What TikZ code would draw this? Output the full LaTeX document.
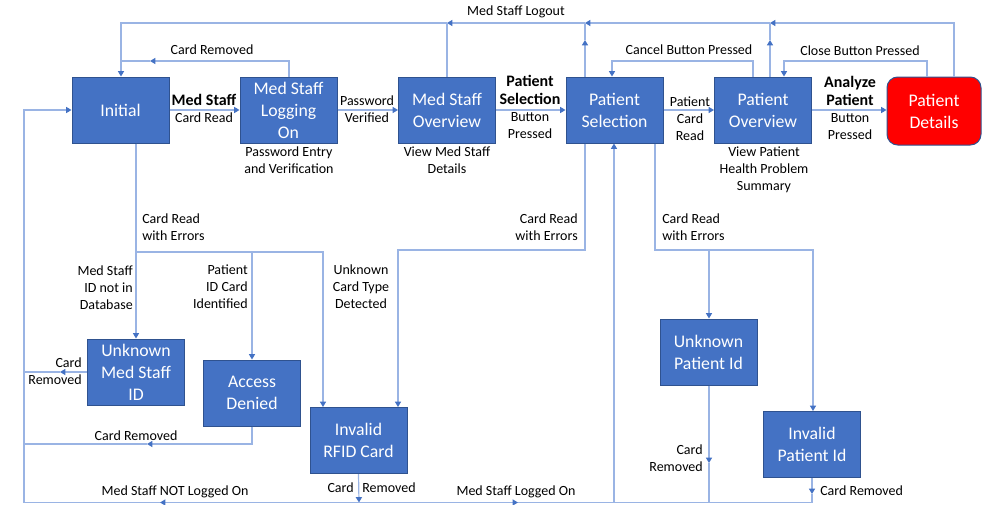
\documentclass[tikz,border=0pt]{standalone}
\usepackage{fontspec}
\setmainfont{Carlito}
\usetikzlibrary{arrows.meta}
\definecolor{boxblue}{HTML}{4472C4}
\definecolor{boxedge}{HTML}{2F528F}
\definecolor{linkblue}{HTML}{9AB4E4}
\definecolor{tipblue}{HTML}{4472C4}
\definecolor{detred}{HTML}{FF0000}
\begin{document}
\begin{tikzpicture}[x=0.75pt,y=-0.75pt,
 state/.style={rectangle, fill=boxblue, draw=boxedge, line width=0.75pt, text=white, minimum width=72.75pt, minimum height=49.5pt, inner sep=0pt, align=center, font=\fontsize{13.3}{16.5}\selectfont},
 lbl/.style={inner sep=0pt, align=center, font=\fontsize{10.5}{12.75}\selectfont},
 blbl/.style={inner sep=0pt, align=center, font=\bfseries\fontsize{12}{13.5}\selectfont},
 link/.style={draw=linkblue, line width=0.9pt},
 tip/.style={-{Triangle[length=4pt,width=4.5pt,color=tipblue]}},
]
\fill[white] (0,0) rectangle (994,504);
\useasboundingbox (0,0) rectangle (994,504);

% states
\node[state] (init) at (120.5,110) {Initial};
\node[state] (logon) at (288.5,110) {Med Staff\\Logging\\On};
\node[state] (mso) at (447,110) {Med Staff\\Overview};
\node[state] (psel) at (614.5,110) {Patient\\Selection};
\node[state] (pov) at (763,110) {Patient\\Overview};
\node[state, fill=detred, rounded corners=8pt, minimum width=70.5pt, minimum height=51pt] (pdet) at (934,111) {Patient\\Details};
\node[state] (umsid) at (136,372) {Unknown\\Med Staff\\ID};
\node[state] (acc) at (252,393) {Access\\Denied};
\node[state] (rfid) at (358.5,440.5) {Invalid\\RFID Card};
\node[state] (upid) at (708.5,352) {Unknown\\Patient Id};
\node[state] (ipid) at (812,444.5) {Invalid\\Patient Id};

% main horizontal flow
\draw[link,tip] (init.east) -- (logon.west);
\draw[link,tip] (logon.east) -- (mso.west);
\draw[link,tip] (mso.east) -- (psel.west);
\draw[link,tip] (psel.east) -- (pov.west);
\draw[link,tip] (pov.east) -- (pov.east -| pdet.west);

% logout
\coordinate (t1) at (954,23);
\coordinate (t2) at (770,23);
\coordinate (t3) at (585,23);
\coordinate (t4) at (447,23);
\coordinate (t5) at (121,23);
\coordinate (u2) at (770,40);
\coordinate (u3) at (585,40);
\draw[link,tip] (pdet.north -| t1) -- (t1) -- (t2);
\draw[link,tip] (t2) -- (t3);
\draw[link,tip] (t3) -- (t4);
\draw[link,tip] (t4) -- (t5) -- (init.north -| t5);
\draw[link,tip] (pov.north -| u2) -- (u2);
\draw[link] (u2) -- (t2);
\draw[link,tip] (psel.north -| u3) -- (u3);
\draw[link] (u3) -- (t3);
\draw[link] (mso.north) -- (t4);

% card removed while logging on
\coordinate (c1) at (289,61);
\coordinate (c2) at (150,61);
\coordinate (c3) at (121,61);
\draw[link,tip] (logon.north -| c1) -- (c1) -- (c2);
\draw[link] (c2) -- (c3);

% cancel / close
\coordinate (k1) at (753,61);
\coordinate (k2) at (612,61);
\draw[link,tip] (pov.north -| k1) -- (k1) -- (k2) -- (psel.north -| k2);
\coordinate (q1) at (927,61);
\coordinate (q2) at (784,61);
\draw[link,tip] (pdet.north -| q1) -- (q1) -- (q2) -- (pov.north -| q2);

% errors from Initial
\coordinate (e1) at (136,252);
\coordinate (e2) at (252,252);
\coordinate (e3) at (323,252);
\draw[link,tip] (init.south -| umsid.north) -- (umsid.north);
\draw[link,tip] (e1) -- (e2) -- (acc.north);
\draw[link,tip] (e2) -- (e3) -- (rfid.north -| e3);

% left return loop
\coordinate (b0) at (24,502.5);
\coordinate (b1) at (24,110);
\draw[link,tip] (b0) -- (b1) -- (init.west);
\coordinate (m1) at (60,372);
\coordinate (m2) at (24,372);
\draw[link,tip] (umsid.west) -- (m1);
\draw[link] (m1) -- (m2);
\coordinate (a1) at (252,444);
\coordinate (a2) at (147,444);
\coordinate (a3) at (24,444);
\draw[link,tip] (acc.south) -- (a1) -- (a2);
\draw[link] (a2) -- (a3);
\coordinate (r1) at (359,502.5);
\coordinate (n1) at (160,502.5);
\draw[link,tip] (rfid.south) -- (r1);
\draw[link,tip] (r1) -- (n1);
\draw[link] (n1) -- (b0);
\coordinate (g1) at (518,502.5);
\coordinate (g2) at (614,502.5);
\draw[link,tip] (r1) -- (g1);
\draw[link,tip] (g1) -- (g2) -- (psel.south -| g2);
\coordinate (p1) at (709,463);
\coordinate (p2) at (709,502.5);
\draw[link,tip] (upid.south -| p1) -- (p1);
\draw[link] (p1) -- (p2);
\coordinate (i1) at (812,494);
\coordinate (i2) at (812,502.5);
\draw[link,tip] (ipid.south) -- (i1);
\draw[link] (i1) -- (i2) -- (g2);

% errors from Patient Selection
\coordinate (s1) at (585,250);
\coordinate (s2) at (398,250);
\draw[link,tip] (psel.south -| s1) -- (s1) -- (s2) -- (rfid.north -| s2);
\coordinate (h1) at (655,250);
\coordinate (h2) at (709,250);
\coordinate (h3) at (813,250);
\draw[link,tip] (psel.south -| h1) -- (h1) -- (h3) -- (ipid.north -| h3);
\draw[link,tip] (h2) -- (upid.north -| h2);

% labels
\node[lbl] (llogout) at (516,12) {Med Staff Logout};
\node[lbl] (lcr1) at (212,50) {Card Removed};
\node[lbl] (lcancel) at (689,50) {Cancel Button Pressed};
\node[lbl] (lclose) at (860,51) {Close Button Pressed};
\node[blbl] (lms) at (204,100) {Med Staff};
\node[lbl] (lmscr) at (204,118) {Card Read};
\node[lbl] (lpw) at (367,109.5) {Password\\Verified};
\node[blbl] (lps) at (530,90) {Patient\\Selection};
\node[lbl] (lpsb) at (530,126) {Button\\Pressed};
\node[lbl] (lpcr) at (690,119) {Patient\\Card\\Read};
\node[blbl] (lap) at (850,91) {Analyze\\Patient};
\node[lbl] (lapb) at (850,126.5) {Button\\Pressed};
\node[lbl] (dlogon) at (289,160) {Password Entry\\and Verification};
\node[lbl] (dmso) at (447,160.5) {View Med Staff\\Details};
\node[lbl] (dpov) at (764,170) {View Patient\\Health Problem\\Summary};
\node[lbl,anchor=west,align=left] (lerr1) at (142,227.5) {Card Read\\with Errors};
\node[lbl,anchor=east,align=right] (lnotdb) at (133,288) {Med Staff\\ID not in\\Database};
\node[lbl,anchor=east,align=right] (lpid) at (248,286.5) {Patient\\ID Card\\Identified};
\node[lbl] (lunk) at (361,287) {Unknown\\Card Type\\Detected};
\node[lbl,anchor=east,align=right] (lcr2) at (82,371.5) {Card\\Removed};
\node[lbl] (lcr3) at (136,436) {Card Removed};
\node[lbl,anchor=east] (lcr4a) at (354,488) {Card};
\node[lbl,anchor=west] (lcr4b) at (362,488) {Removed};
\node[lbl] (lnot) at (175,492) {Med Staff NOT Logged On};
\node[lbl] (lon) at (516,492) {Med Staff Logged On};
\node[lbl,anchor=east,align=right] (lerr2) at (578,227.5) {Card Read\\with Errors};
\node[lbl,anchor=west,align=left] (lerr3) at (662,227.5) {Card Read\\with Errors};
\node[lbl,anchor=east,align=right] (lcr5) at (703,458.5) {Card\\Removed};
\node[lbl,anchor=west] (lcr6) at (820,491) {Card Removed};
\end{tikzpicture}
\end{document}
